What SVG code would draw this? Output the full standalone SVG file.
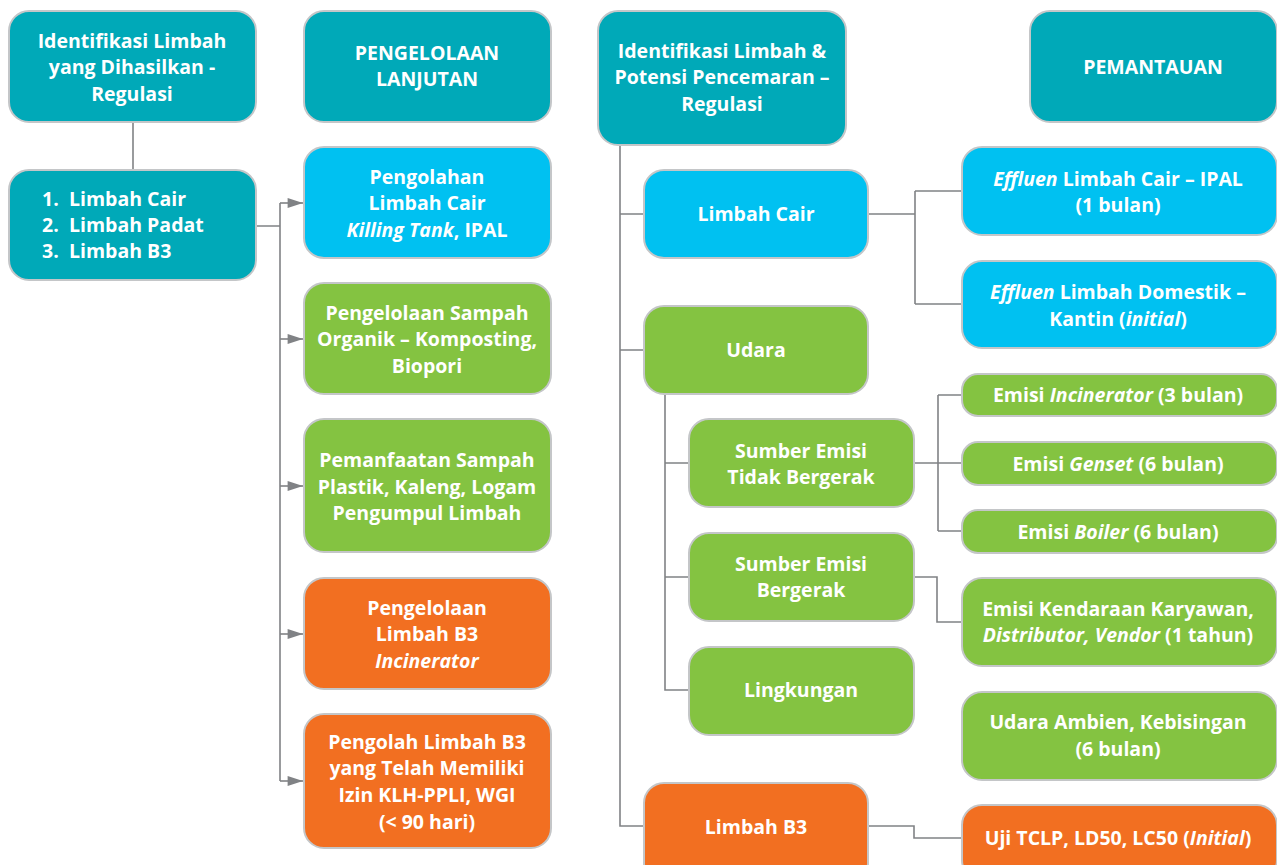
<svg xmlns="http://www.w3.org/2000/svg" width="1277" height="865" viewBox="0 0 1277 865">
<defs>
<style>
.n{stroke:#c4c6c8;stroke-width:2}
.teal{fill:#00a9b8}
.blue{fill:#00c1f1}
.green{fill:#84c341}
.orange{fill:#f26f21}
text{font-family:"Open Sans","Liberation Sans",sans-serif;font-weight:700;font-size:19.5px;fill:#ffffff;text-anchor:middle}
.l{text-anchor:start}
.i{font-style:italic}
.c{fill:none;stroke:#808285;stroke-width:1.6}
</style>
<marker id="ar" viewBox="0 0 14 10" refX="14" refY="5" markerWidth="16" markerHeight="11" markerUnits="userSpaceOnUse" orient="auto">
<path d="M0,0.5 L14,5 L0,9.5 z" fill="#808285"/>
</marker>
</defs>
<rect width="1277" height="865" fill="#ffffff"/>
<g id="connectors">
<path class="c" d="M133,122 V170"/>
<path class="c" d="M256,226 H280 M280,203 V781"/>
<path class="c" d="M280,203 H303" marker-end="url(#ar)"/>
<path class="c" d="M280,339 H303" marker-end="url(#ar)"/>
<path class="c" d="M280,486 H303" marker-end="url(#ar)"/>
<path class="c" d="M280,634 H303" marker-end="url(#ar)"/>
<path class="c" d="M280,781 H303" marker-end="url(#ar)"/>
<path class="c" d="M620,145 V826 H644 M620,214 H644 M620,350 H644"/>
<path class="c" d="M665,394 V690 H689 M665,463 H689 M665,577 H689"/>
<path class="c" d="M868,214 H915 M915,191 V304 M915,191 H962 M915,304 H962"/>
<path class="c" d="M914,463 H962 M938,395 V531 M938,395 H962 M938,531 H962"/>
<path class="c" d="M914,577 H937 V622 H962"/>
<path class="c" d="M868,826 H914 V838 H962"/>
</g>
<g id="n1"><rect class="n teal" x="9" y="11" width="247" height="111" rx="20"/>
<text x="132" y="48">Identifikasi Limbah</text><text x="132" y="74">yang Dihasilkan -</text><text x="132" y="101">Regulasi</text></g>
<g id="n2"><rect class="n teal" x="9" y="170" width="247" height="110" rx="20"/>
<text class="l" x="42" y="206">1.</text><text class="l" x="69" y="206">Limbah Cair</text>
<text class="l" x="42" y="232">2.</text><text class="l" x="69" y="232">Limbah Padat</text>
<text class="l" x="42" y="258">3.</text><text class="l" x="69" y="258">Limbah B3</text></g>
<g id="n3"><rect class="n teal" x="304" y="11" width="247" height="111" rx="20"/>
<text x="427" y="60">PENGELOLAAN</text><text x="427" y="86">LANJUTAN</text></g>
<g id="n4"><rect class="n blue" x="304" y="147" width="247" height="111" rx="20"/>
<text x="427" y="184">Pengolahan</text><text x="427" y="210">Limbah Cair</text><text x="427" y="237"><tspan class="i">Killing Tank</tspan>, IPAL</text></g>
<g id="n5"><rect class="n green" x="304" y="283" width="247" height="111" rx="20"/>
<text x="427" y="320">Pengelolaan Sampah</text><text x="427" y="346">Organik – Komposting,</text><text x="427" y="373">Biopori</text></g>
<g id="n6"><rect class="n green" x="304" y="419" width="247" height="133" rx="20"/>
<text x="427" y="467">Pemanfaatan Sampah</text><text x="427" y="494">Plastik, Kaleng, Logam</text><text x="427" y="520">Pengumpul Limbah</text></g>
<g id="n7"><rect class="n orange" x="304" y="578" width="247" height="111" rx="20"/>
<text x="427" y="615">Pengelolaan</text><text x="427" y="641">Limbah B3</text><text class="i" x="427" y="668">Incinerator</text></g>
<g id="n8"><rect class="n orange" x="304" y="714" width="247" height="134" rx="20"/>
<text x="427" y="749">Pengolah Limbah B3</text><text x="427" y="775">yang Telah Memiliki</text><text x="427" y="802">Izin KLH-PPLI, WGI</text><text x="427" y="829">(&lt; 90 hari)</text></g>
<g id="n9"><rect class="n teal" x="598" y="11" width="248" height="134" rx="20"/>
<text x="722" y="58">Identifikasi Limbah &amp;</text><text x="722" y="84">Potensi Pencemaran –</text><text x="722" y="111">Regulasi</text></g>
<g id="n10"><rect class="n teal" x="1030" y="11" width="247" height="111" rx="20"/>
<text x="1153" y="74">PEMANTAUAN</text></g>
<g id="n11"><rect class="n blue" x="644" y="170" width="224" height="88" rx="20"/>
<text x="756" y="221">Limbah Cair</text></g>
<g id="n12"><rect class="n green" x="644" y="306" width="224" height="88" rx="20"/>
<text x="756" y="357">Udara</text></g>
<g id="n13"><rect class="n green" x="689" y="419" width="225" height="88" rx="20"/>
<text x="801" y="458">Sumber Emisi</text><text x="801" y="484">Tidak Bergerak</text></g>
<g id="n14"><rect class="n green" x="689" y="533" width="225" height="88" rx="20"/>
<text x="801" y="571">Sumber Emisi</text><text x="801" y="597">Bergerak</text></g>
<g id="n15"><rect class="n green" x="689" y="647" width="225" height="88" rx="20"/>
<text x="801" y="697">Lingkungan</text></g>
<g id="n16"><rect class="n orange" x="644" y="783" width="224" height="100" rx="20"/>
<text x="756" y="834">Limbah B3</text></g>
<g id="n17"><rect class="n blue" x="962" y="147" width="315" height="88" rx="20"/>
<text x="1118" y="186"><tspan class="i">Effluen</tspan> Limbah Cair – IPAL</text><text x="1118" y="212">(1 bulan)</text></g>
<g id="n18"><rect class="n blue" x="962" y="261" width="315" height="87" rx="20"/>
<text x="1118" y="299"><tspan class="i">Effluen</tspan> Limbah Domestik –</text><text x="1118" y="326">Kantin (<tspan class="i">initial</tspan>)</text></g>
<g id="n19"><rect class="n green" x="962" y="374" width="315" height="42" rx="16"/>
<text x="1118" y="402">Emisi <tspan class="i">Incinerator</tspan> (3 bulan)</text></g>
<g id="n20"><rect class="n green" x="962" y="442" width="315" height="43" rx="16"/>
<text x="1118" y="471">Emisi <tspan class="i">Genset</tspan> (6 bulan)</text></g>
<g id="n21"><rect class="n green" x="962" y="510" width="315" height="43" rx="16"/>
<text x="1118" y="539">Emisi <tspan class="i">Boiler</tspan> (6 bulan)</text></g>
<g id="n22"><rect class="n green" x="962" y="578" width="315" height="88" rx="20"/>
<text x="1118" y="616">Emisi Kendaraan Karyawan,</text><text x="1118" y="642"><tspan class="i">Distributor, Vendor</tspan> (1 tahun)</text></g>
<g id="n23"><rect class="n green" x="962" y="692" width="315" height="88" rx="20"/>
<text x="1118" y="729">Udara Ambien, Kebisingan</text><text x="1118" y="756">(6 bulan)</text></g>
<g id="n24"><rect class="n orange" x="962" y="805" width="315" height="75" rx="20"/>
<text x="1118" y="845">Uji TCLP, LD50, LC50 (<tspan class="i">Initial</tspan>)</text></g>
</svg>
